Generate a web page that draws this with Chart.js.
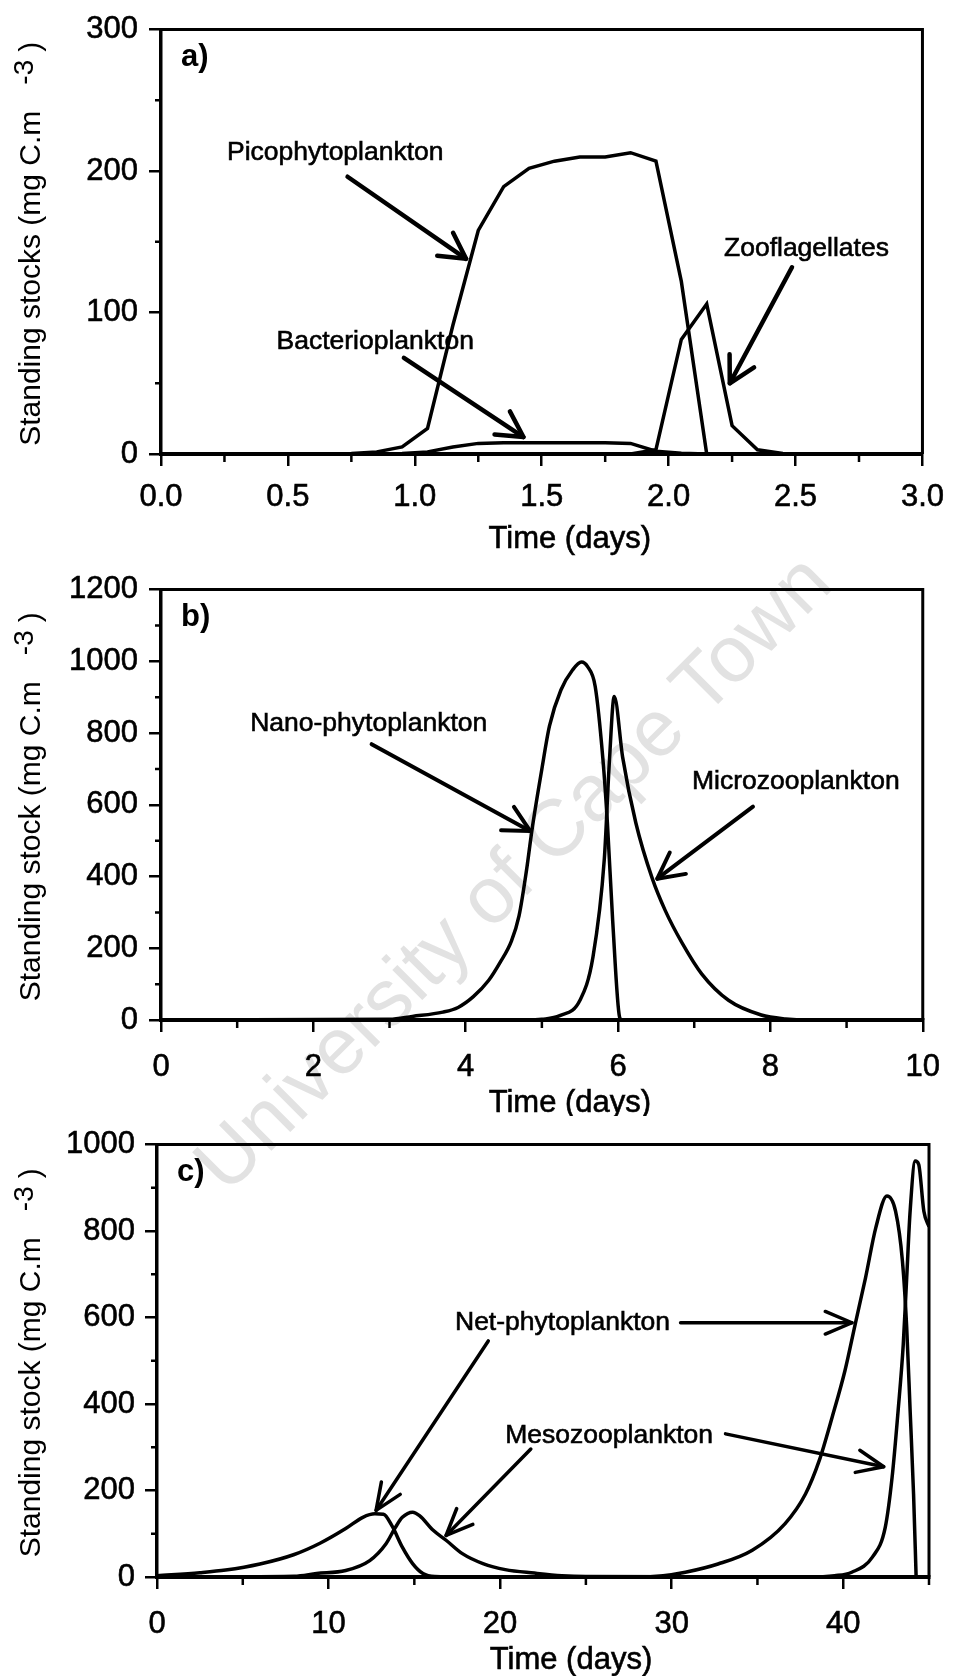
<!DOCTYPE html>
<html>
<head>
<meta charset="utf-8">
<title>Standing stocks</title>
<script src="https://cdn.jsdelivr.net/npm/chart.js@4.4.0/dist/chart.umd.min.js"></script>
<style>
  body { margin: 0; background: #fff; }
  #wrap { position: relative; width: 957px; height: 1676px; overflow: hidden; background: #fff; }
  .panel { position: absolute; left: 0; z-index: 1; }
  #watermark {
    position: absolute; left: 512px; top: 872px; z-index: 0;
    transform: translate(-50%, -50%) rotate(-45deg);
    font: 80px "Liberation Sans", Arial, sans-serif;
    color: #e2e2e2; white-space: nowrap;
  }
</style>
</head>
<body>
<div id="wrap">
  <div id="watermark">University of Cape Town</div>
  <canvas class="panel" id="chartA" width="957" height="560" style="top:0"></canvas>
  <canvas class="panel" id="chartB" width="957" height="556" style="top:560px"></canvas>
  <canvas class="panel" id="chartC" width="957" height="560" style="top:1116px"></canvas>
</div>
<script>
// ---- panel a) : pico / bacterio / zooflagellates (days)
const timeA = [0.05, 0.15, 0.25, 0.35, 0.45, 0.55, 0.65, 0.75, 0.85, 0.95, 1.05, 1.15, 1.25, 1.35, 1.45,
  1.55, 1.65, 1.75, 1.85, 1.95, 2.05, 2.15, 2.25, 2.35, 2.45, 2.55, 2.65, 2.75, 2.85, 2.95];
const picoA = [0, 0, 0, 0, 0, 0, 0, 0.3, 1.5, 5, 18, 91, 158, 189, 202,
  207, 210, 210, 213, 207, 122, 0, 0, 0, 0, 0, 0, 0, 0, 0];
const bactA = [0, 0, 0, 0, 0, 0, 0, 0, 0, 0.3, 1.5, 5, 7.5, 8, 8,
  8, 8, 8, 7.5, 2, 0.5, 0, 0, 0, 0, 0, 0, 0, 0, 0];
const zooA = [0, 0, 0, 0, 0, 0, 0, 0, 0, 0, 0, 0, 0, 0, 0,
  0, 0, 0, 0, 3, 81, 106, 20, 3, 0.3, 0, 0, 0, 0, 0];

// ---- panel b) : nano-phytoplankton / microzooplankton
const nanoT = [0, 3.0, 3.3, 3.7, 3.9, 4.1, 4.3, 4.45, 4.6, 4.7, 4.8, 4.87, 5.0, 5.1, 5.25, 5.4,
  5.52, 5.6, 5.7, 5.8, 5.86, 5.93, 6.02, 6.05];
const nanoV = [0, 2, 10, 22, 35, 65, 110, 160, 220, 290, 420, 530, 700, 820, 920, 975,
  998, 985, 930, 730, 550, 275, 8, 0];
const microT = [0, 4.8, 5.0, 5.235, 5.5, 5.67, 5.82, 5.886, 5.95, 6.06, 6.233, 6.45, 6.62, 6.84,
  7.1, 7.45, 7.88, 8.2, 8.5, 10];
const microV = [0, 0, 2, 12, 55, 175, 450, 720, 902, 733, 550, 394, 305, 215,
  128, 55, 14, 3, 0, 0];

// ---- panel c) : net-phytoplankton / mesozooplankton
const netT = [0, 2.5, 4, 6, 8, 9.5, 11, 12, 12.7, 13.2, 13.7, 14.3, 14.9, 15.5, 16.2, 18, 28, 29.5,
  30.8, 32.7, 34.7, 36.6, 37.8, 38.6, 39.35, 40.1, 40.7, 41.3, 41.9, 42.55, 43.05, 43.45, 43.7,
  43.9, 44.1, 44.25];
const netV = [3, 10, 16, 30, 52, 78, 112, 138, 146, 145, 118, 69, 31, 8, 1, 0, 0, 3,
  11, 30, 62, 123, 192, 269, 369, 477, 585, 692, 808, 881, 846, 731, 577,
  385, 192, 0];
const mesoT = [0, 8, 9.3, 11, 12.4, 13.35, 13.9, 14.3, 14.9, 15.3, 16.1, 16.85, 17.8, 19, 20.3, 22,
  23.6, 25, 38, 39.5, 40.5, 41.7, 42.45, 42.85, 43.2, 43.5, 43.7, 43.9, 44.2, 44.4, 44.7, 45];
const mesoV = [0, 2, 8, 15, 38, 77, 115, 138, 150, 142, 108, 85, 54, 31, 17, 9,
  3, 1, 0, 3, 11, 46, 115, 231, 385, 538, 692, 846, 962, 954, 846, 810];

// minor (unlabelled) tick values
const minorXA = [0.25, 0.75, 1.25, 1.75, 2.25, 2.75];
const minorYA = [50, 150, 250];
const minorXB = [1, 3, 5, 7, 9];
const minorYB = [100, 300, 500, 700, 900, 1100];
const minorXC = [5, 15, 25, 35, 45];
const minorYC = [100, 300, 500, 700, 900];

// labels and arrows, in data units
const notesA = [
  { text: 'Picophytoplankton', x: 0.26, y: 208 },
  { text: 'Bacterioplankton', x: 0.455, y: 74 },
  { text: 'Zooflagellates', x: 2.218, y: 140 }
];
const arrowsA = [
  [0.735, 196, 1.202, 138],
  [0.957, 68, 1.428, 12],
  [2.486, 132, 2.241, 50]
];
const notesB = [
  { text: 'Nano-phytoplankton', x: 1.17, y: 805 },
  { text: 'Microzooplankton', x: 6.97, y: 643 }
];
const arrowsB = [
  [2.765, 769, 4.845, 527],
  [7.771, 595, 6.515, 394]
];
const notesC = [
  { text: 'Net-phytoplankton', x: 17.37, y: 572 },
  { text: 'Mesozooplankton', x: 20.3, y: 311 }
];
const arrowsC = [
  [30.52, 588, 40.51, 588],
  [19.31, 546, 12.77, 154],
  [33.14, 331, 42.36, 255],
  [21.79, 296, 16.85, 96]
];

const FONT = '"Liberation Sans", Arial, Helvetica, sans-serif';

function drawArrow(ctx, x1, y1, x2, y2, head) {
  ctx.lineWidth = head.w;
  ctx.lineCap = 'round';
  ctx.lineJoin = 'round';
  ctx.beginPath();
  ctx.moveTo(x1, y1);
  ctx.lineTo(x2, y2);
  ctx.stroke();
  const a = Math.atan2(y2 - y1, x2 - x1);
  ctx.beginPath();
  ctx.moveTo(x2 - head.len * Math.cos(a - head.ang), y2 - head.len * Math.sin(a - head.ang));
  ctx.lineTo(x2, y2);
  ctx.lineTo(x2 - head.len * Math.cos(a + head.ang), y2 - head.len * Math.sin(a + head.ang));
  ctx.stroke();
}

// fill + thin stroke so the text looks as heavy as the scan
function heavyText(ctx, s, x, y) {
  ctx.fillText(s, x, y);
  ctx.lineWidth = 0.6;
  ctx.strokeText(s, x, y);
}

// frame, minor ticks, titles, panel letter, labels and arrows
const decor = {
  id: 'decor',
  afterDraw(chart, args, o) {
    const { ctx, chartArea: ca } = chart;
    const xs = chart.scales.x, ys = chart.scales.y;
    ctx.save();
    ctx.strokeStyle = '#000';
    ctx.fillStyle = '#000';

    // top + right border
    ctx.lineWidth = 3;
    ctx.beginPath();
    ctx.moveTo(ca.left, ca.top);
    ctx.lineTo(ca.right, ca.top);
    ctx.lineTo(ca.right, ca.bottom);
    ctx.stroke();

    // minor ticks
    ctx.lineWidth = 2.5;
    ctx.beginPath();
    o.minorX.forEach(v => {
      const px = xs.getPixelForValue(v);
      ctx.moveTo(px, ca.bottom);
      ctx.lineTo(px, ca.bottom + 8);
    });
    o.minorY.forEach(v => {
      const py = ys.getPixelForValue(v);
      ctx.moveTo(ca.left - 6, py);
      ctx.lineTo(ca.left, py);
    });
    ctx.stroke();

    // panel letter
    ctx.font = 'bold 31px ' + FONT;
    ctx.textAlign = 'left';
    ctx.textBaseline = 'alphabetic';
    ctx.fillText(o.letter, ca.left + 20, ca.top + 36);

    // x title
    ctx.font = '31px ' + FONT;
    ctx.textAlign = 'center';
    heavyText(ctx, 'Time (days)', (ca.left + ca.right) / 2 + 28, ca.bottom + o.xTitleDy);

    // y title with superscript
    ctx.save();
    ctx.translate(40, (ca.top + ca.bottom) / 2 + 2);
    ctx.rotate(-Math.PI / 2);
    ctx.textAlign = 'left';
    ctx.font = '30px ' + FONT;
    const wMain = ctx.measureText(o.yTitle).width;
    const wPar = ctx.measureText(')').width;
    ctx.font = '28px ' + FONT;
    const wSup = ctx.measureText('-3').width;
    const total = wMain + 26 + wSup + 8 + wPar;
    let tx = -total / 2;
    ctx.font = '30px ' + FONT;
    ctx.fillText(o.yTitle, tx, 0);
    tx += wMain + 26;
    ctx.font = '28px ' + FONT;
    ctx.fillText('-3', tx, -7);
    tx += wSup + 8;
    ctx.font = '30px ' + FONT;
    ctx.fillText(')', tx, 0);
    ctx.restore();

    // annotations
    ctx.font = '26.5px ' + FONT;
    ctx.textAlign = 'left';
    o.notes.forEach(n => {
      heavyText(ctx, n.text, xs.getPixelForValue(n.x), ys.getPixelForValue(n.y));
    });
    o.arrows.forEach(a => {
      drawArrow(ctx, xs.getPixelForValue(a[0]), ys.getPixelForValue(a[1]),
        xs.getPixelForValue(a[2]), ys.getPixelForValue(a[3]), o.head);
    });
    ctx.restore();
  }
};

function makePanel(p) {
  const datasets = p.series.map(s => ({
    data: s[0].map((t, i) => ({ x: t, y: s[1][i] })),
    borderColor: '#000',
    borderWidth: 3.5,
    pointRadius: 0,
    fill: false,
    tension: 0,
    cubicInterpolationMode: p.smooth ? 'monotone' : 'default'
  }));
  return new Chart(document.getElementById(p.canvas), {
    type: 'line',
    data: { datasets },
    options: {
      responsive: false,
      animation: false,
      events: [],
      layout: { padding: { top: p.top, right: p.right, left: 0, bottom: 0 } },
      plugins: {
        legend: { display: false },
        tooltip: { enabled: false },
        decor: {
          letter: p.letter, yTitle: p.yTitle, xTitleDy: p.xTitleDy,
          minorX: p.minorX, minorY: p.minorY,
          notes: p.notes, arrows: p.arrows, head: p.head
        }
      },
      scales: {
        x: {
          type: 'linear', min: 0, max: p.xMax,
          afterFit: s => { s.height = p.xH; },
          border: { display: true, color: '#000', width: 4 },
          grid: { drawOnChartArea: false, drawTicks: true, tickLength: 12, tickWidth: 2.5, tickColor: '#000', lineWidth: 2.5 },
          ticks: {
            stepSize: p.xStep, includeBounds: false, autoSkip: false, maxRotation: 0,
            padding: p.xPad, color: '#000', font: { family: FONT, size: 31 },
            textStrokeColor: '#000', textStrokeWidth: 0.6,
            callback: v => p.xDigits ? Number(v).toFixed(p.xDigits) : String(v)
          }
        },
        y: {
          min: 0, max: p.yMax,
          afterFit: s => { s.width = p.yW; },
          border: { display: true, color: '#000', width: 3.5 },
          grid: { drawOnChartArea: false, drawTicks: true, tickLength: 12, tickWidth: 2.5, tickColor: '#000', lineWidth: 2.5 },
          ticks: {
            stepSize: p.yStep, autoSkip: false, padding: p.yPad,
            color: '#000', font: { family: FONT, size: 31 },
            textStrokeColor: '#000', textStrokeWidth: 0.6,
            callback: v => String(v)
          }
        }
      }
    },
    plugins: [decor]
  });
}

makePanel({
  canvas: 'chartA', letter: 'a)', yTitle: 'Standing stocks (mg C.m',
  series: [[timeA, picoA], [timeA, bactA], [timeA, zooA]], smooth: false,
  xMax: 3, xStep: 0.5, xDigits: 1, yMax: 300, yStep: 100,
  minorX: minorXA, minorY: minorYA, notes: notesA, arrows: arrowsA,
  head: { len: 29, ang: 0.5, w: 4.5 },
  top: 18, right: 25, yW: 161, xH: 106, xPad: 13, yPad: 11, xTitleDy: 94
});

makePanel({
  canvas: 'chartB', letter: 'b)', yTitle: 'Standing stock (mg C.m',
  series: [[nanoT, nanoV], [microT, microV]], smooth: true,
  xMax: 10, xStep: 2, xDigits: 0, yMax: 1200, yStep: 200,
  minorX: minorXB, minorY: minorYB, notes: notesB, arrows: arrowsB,
  head: { len: 29, ang: 0.48, w: 4 },
  top: 23, right: 27, yW: 161, xH: 96, xPad: 17, yPad: 11, xTitleDy: 91.5
});

makePanel({
  canvas: 'chartC', letter: 'c)', yTitle: 'Standing stock (mg C.m',
  series: [[netT, netV], [mesoT, mesoV]], smooth: true,
  xMax: 45, xStep: 10, xDigits: 0, yMax: 1000, yStep: 200,
  minorX: minorXC, minorY: minorYC, notes: notesC, arrows: arrowsC,
  head: { len: 29, ang: 0.4, w: 3.5 },
  top: 27, right: 28, yW: 157, xH: 99, xPad: 17, yPad: 10, xTitleDy: 91.5
});
</script>
</body>
</html>
